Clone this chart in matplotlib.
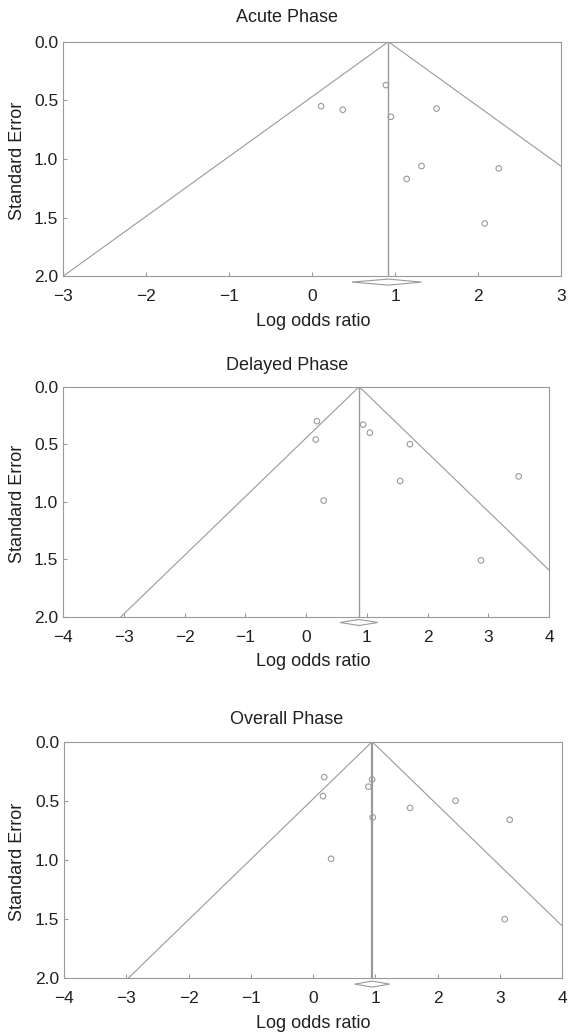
import matplotlib
matplotlib.use("Agg")
import matplotlib.pyplot as plt
from matplotlib.patches import Polygon
import numpy as np

plt.rcParams['font.family'] = ['Liberation Sans', 'DejaVu Sans']

titles = ["Acute Phase", "Delayed Phase", "Overall Phase"]

acute_lor = [0.11, 0.37, 0.89, 0.95, 1.50, 1.32, 1.14, 2.25, 2.08]
acute_se = [0.55, 0.58, 0.37, 0.64, 0.57, 1.06, 1.17, 1.08, 1.55]
acute_pooled = 0.92
acute_ci = (0.48, 1.32)

delayed_lor = [0.18, 0.16, 0.29, 0.94, 1.05, 1.71, 1.55, 3.50, 2.88]
delayed_se = [0.30, 0.46, 0.99, 0.33, 0.40, 0.50, 0.82, 0.78, 1.51]
delayed_pooled = 0.875
delayed_ci = (0.56, 1.18)

overall_lor = [0.18, 0.16, 0.29, 0.89, 0.95, 0.96, 1.56, 2.29, 3.16, 3.08]
overall_se = [0.30, 0.46, 0.99, 0.38, 0.32, 0.64, 0.56, 0.50, 0.66, 1.50]
overall_pooled = 0.95
overall_ci = (0.67, 1.23)

xlims = [(-3, 3), (-4, 4), (-4, 4)]
xticks_list = [[-3, -2, -1, 0, 1, 2, 3], [-4, -3, -2, -1, 0, 1, 2, 3, 4], [-4, -3, -2, -1, 0, 1, 2, 3, 4]]
yticks = [0.0, 0.5, 1.0, 1.5, 2.0]
ytick_labels = ["0.0", "0.5", "1.0", "1.5", "2.0"]

W, H = 569, 1034
fig = plt.figure(figsize=(W / 100, H / 100), dpi=100)

# axes boxes in pixels: left, right, top, bottom
boxes = [(63, 561, 41.7, 276.3), (63, 549, 386.7, 616.7), (64, 562, 741.7, 978.3)]
title_y = [17, 366, 720]

data = [(acute_lor, acute_se, acute_pooled, acute_ci),
        (delayed_lor, delayed_se, delayed_pooled, delayed_ci),
        (overall_lor, overall_se, overall_pooled, overall_ci)]

gray = "#9a9a9a"
txt = "#231f20"
for i, (lor, se, pooled, ci) in enumerate(data):
    l, r, t, b = boxes[i]
    ax = fig.add_axes([l / W, 1 - b / H, (r - l) / W, (b - t) / H])
    ax.set_xlim(*xlims[i])
    ax.set_ylim(2.0, 0.0)
    # funnel
    ax.plot([pooled - 1.96 * 2, pooled, pooled + 1.96 * 2], [2, 0, 2], color=gray, lw=0.8)
    ax.plot([pooled, pooled], [0, 2], color=gray, lw=1.0 if i < 2 else 1.6)
    ax.scatter(lor, se, s=16, facecolors='none', edgecolors=gray, linewidths=0.8, zorder=3)
    # diamond below axis
    yc = 2.0 + 2.0 * 5.8 / (b - t)
    hh = 2.0 * 3.0 / (b - t)
    diamond = Polygon([[ci[0], yc], [pooled, yc - hh], [ci[1], yc], [pooled, yc + hh]],
                      closed=True, facecolor='white', edgecolor=gray, lw=0.8, clip_on=False, zorder=4)
    ax.add_patch(diamond)
    ax.set_xticks(xticks_list[i])
    ax.set_xticklabels([str(v).replace('-', '\u2212') for v in xticks_list[i]])
    ax.set_yticks(yticks)
    ax.set_yticklabels(ytick_labels)
    ax.tick_params(direction='in', length=3, color=gray, labelsize=12.5, labelcolor=txt)
    ax.tick_params(axis='x', pad=9.5)
    ax.tick_params(axis='y', pad=3.5)
    for sp in ax.spines.values():
        sp.set_color(gray)
        sp.set_linewidth(0.8)
    fig.text(18 / W, 1 - ((t + b) / 2 + 2) / H, "Standard Error", rotation=90,
             ha='center', va='center', fontsize=13, color=txt)
    fig.text(287 / W, 1 - title_y[i] / H, titles[i], ha='center', va='center', fontsize=13, color=txt)
    fig.text(313 / W, 1 - (b + 45) / H, "Log odds ratio", ha='center', va='center', fontsize=13, color=txt)

fig.savefig("out.png", dpi=100)
